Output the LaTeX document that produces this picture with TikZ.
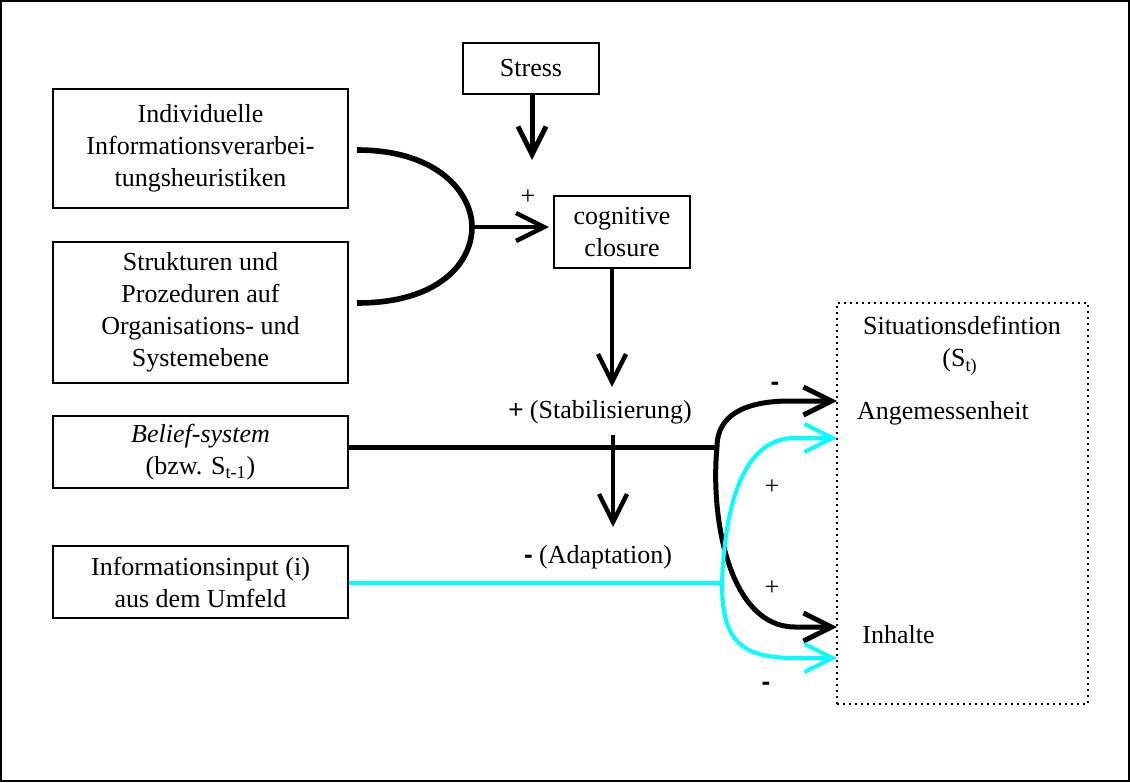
\documentclass[tikz,border=0pt]{standalone}
\usepackage{fontspec}
\setmainfont{Liberation Serif}
\newfontfamily\arialfont{Liberation Sans}
\usetikzlibrary{arrows.meta}
\definecolor{cyanline}{RGB}{0,255,255}
\begin{document}
\begin{tikzpicture}[x=0.5pt,y=-0.5pt,
  every node/.style={font=\fontsize{13}{16}\selectfont},
  box/.style={draw,line width=0.8pt,inner sep=0pt,align=center,minimum width=147.5pt},
  tbox/.style={draw,line width=0.8pt,inner sep=0pt,align=center},
  lbl/.style={inner sep=0pt},
  barb/.style={-{Straight Barb[length=14pt,width=14pt]}},
  blk/.style={line width=2.5pt,black},
  cy/.style={line width=2pt,color=cyanline}]
\useasboundingbox (0,0) rectangle (1130,782);
\draw[line width=0.8pt] (1,1) rectangle (1129,781);
% boxes
\node[tbox,minimum width=68pt,minimum height=25.5pt] (stress) at (531,68.5) {Stress};
\node[box,minimum height=59.5pt] (b1) at (200.5,148.5) {Individuelle\\Informationsverarbei-\\tungsheuristiken};
\node[box,minimum height=70.5pt] (b2) at (200.5,312.5) {Strukturen und\\Prozeduren auf\\Organisations- und\\Systemebene};
\node[tbox,minimum width=68pt,minimum height=36pt] (cc) at (622,232) {cognitive\\closure};
\node[box,minimum height=36pt] (bel) at (200.5,452) {\textit{Belief-system}\\(bzw. S\textsubscript{t-1})};
\node[box,minimum height=36pt] (inf) at (200.5,582) {Informationsinput (i)\\aus dem Umfeld};
\node[draw,dotted,line width=1pt,inner sep=0pt,minimum width=125.5pt,minimum height=200.5pt] (sit) at (962.5,503.5) {};
\node[lbl] (sitt) at (962,325) {Situationsdefintion};
\node[lbl] (st) at (960,362) {(S\textsubscript{t)}};
\node[lbl] (ang) at (943,413) {Angemessenheit};
\node[lbl,anchor=west] (inh) at (862,635) {Inhalte};
% coordinates
\coordinate (stip) at (532,160);
\coordinate (m1) at (357,150);
\coordinate (m2) at (357,303);
\coordinate (mv) at (472,227);
\coordinate (mtip) at (549,227);
\coordinate (cctip) at (612,387);
\coordinate (atop) at (613,435);
\coordinate (atip) at (613,527);
\coordinate (jb) at (717,447);
\coordinate (jc) at (722,583);
\coordinate (tA) at (837,401);
\coordinate (tAc) at (837,438);
\coordinate (tI) at (837,627);
\coordinate (tIc) at (837,658);
% arrows
\draw[blk,barb] (stress.south -| stip) -- (stip);
\draw[blk,line width=2.8pt] (m1) .. controls (440,150) and (472,195) .. (mv)
   .. controls (472,262) and (440,303) .. (m2);
\draw[blk,line width=2.2pt,barb] (mv) -- (mtip);
\node[lbl] (plus0) at (528,197) {+};
\draw[blk,line width=2.2pt,barb] (cc.south -| cctip) -- (cctip);
\node[lbl] (stab) at (600,412) {{\arialfont +} (Stabilisierung)};
\draw[blk,line width=2.2pt,barb] (atop) -- (atip);
\node[lbl] (adap) at (598,557) {{\arialfont\bfseries -} (Adaptation)};
% belief line and branches
\draw[blk] (bel.east |- jb) -- (jb);
\draw[blk,barb] (jb) .. controls (717,415) and (745,401) .. (790,401) -- (tA);
\draw[blk,barb] (jb) .. controls (710,520) and (730,627) .. (795,627) -- (tI);
% cyan
\draw[cy] (inf.east |- jc) -- (jc);
\draw[cy,barb] (jc) .. controls (725,500) and (745,438) .. (795,438) -- (tAc);
\draw[cy,barb] (jc) .. controls (722,640) and (740,658) .. (795,658) -- (tIc);
% signs
\node[lbl] (s1) at (775,386) {\arialfont\bfseries -};
\node[lbl] (s2) at (772,487) {+};
\node[lbl] (s3) at (772,588) {+};
\node[lbl] (s4) at (766,686) {\arialfont\bfseries -};
\end{tikzpicture}
\end{document}
